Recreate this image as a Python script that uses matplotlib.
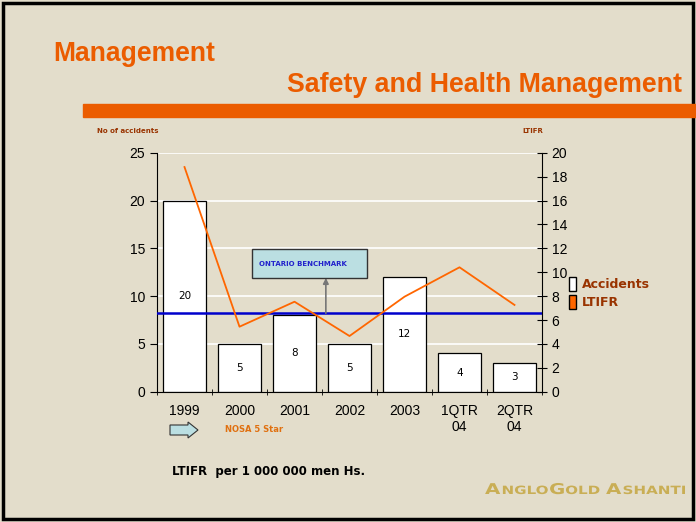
import matplotlib
matplotlib.use("Agg")
import matplotlib.pyplot as plt
from matplotlib.patches import Rectangle, Patch, FancyArrow, PathPatch
from matplotlib.textpath import TextPath
from matplotlib.font_manager import FontProperties
from matplotlib.transforms import Affine2D, IdentityTransform

# data
categories = ["1999", "2000", "2001", "2002", "2003", "1QTR\n04", "2QTR\n04"]
accidents = [20, 5, 8, 5, 12, 4, 3]
ltifr = [18.8, 5.44, 7.53, 4.66, 7.95, 10.41, 7.26]
benchmark = 8.2  # on accidents axis

BG = "#E3DDCB"
ORANGE = "#EB5C00"
BROWN = "#993300"

fig = plt.figure(figsize=(6.96, 5.22), dpi=100, facecolor=BG)

# border
fig.patches.append(Rectangle((0.005, 0.006), 0.99, 0.988, transform=fig.transFigure,
                             fill=False, edgecolor="black", linewidth=2.5))

# titles and banner
fig.text(53 / 696, 1 - 60.7 / 522, "Management", color=ORANGE, fontsize=19.1,
         fontweight="bold", va="baseline", ha="left", family="Liberation Sans")
fig.text(682 / 696, 1 - 92.5 / 522, "Safety and Health Management", color=ORANGE,
         fontsize=19.3, fontweight="bold", va="baseline", ha="right", family="Liberation Sans")
fig.patches.append(Rectangle((83 / 696, 1 - 117 / 522), 1, 13 / 522,
                             transform=fig.transFigure, color=ORANGE, zorder=1))

ax = fig.add_axes([157 / 696, 1 - 391.7 / 522, 385 / 696, 239 / 522])
ax.set_facecolor("none")
x = list(range(len(categories)))

# gridlines
for g in [5, 10, 15, 20, 25]:
    ax.axhline(g, color="white", linewidth=1.2, zorder=0)

bars = ax.bar(x, accidents, width=0.79, color="white", edgecolor="black", linewidth=0.9, zorder=2)
for xi, v in zip(x, accidents):
    ax.text(xi, v / 2, str(v), ha="center", va="center", fontsize=7.5, zorder=3)

ax.axhline(benchmark, color="#0000CC", linewidth=1.8, zorder=4)

ax.set_xlim(-0.5, len(categories) - 0.5)
ax.set_ylim(0, 25)
ax.set_yticks([0, 5, 10, 15, 20, 25])
ax.set_xticks(x)
ax.set_xticklabels(categories, fontsize=10, family="Liberation Sans")
ax.tick_params(axis="x", length=0, pad=9)
ax.set_xticks([i + 0.5 for i in range(-1, len(categories))], minor=True)
ax.tick_params(axis="x", which="minor", length=4, direction="inout")
ax.tick_params(axis="y", labelsize=10, length=5, direction="out")
for lab in ax.get_yticklabels():
    lab.set_family("Liberation Sans")
ax.spines["top"].set_visible(False)
ax.spines["right"].set_visible(False)

ax2 = ax.twinx()
ax2.plot(x, ltifr, color="#FF6600", linewidth=1.3, zorder=5)
ax2.set_ylim(0, 20)
ax2.set_yticks(range(0, 21, 2))
ax2.tick_params(axis="y", labelsize=10, length=7, direction="inout")
for lab in ax2.get_yticklabels():
    lab.set_family("Liberation Sans")
for s in ["top", "left", "bottom"]:
    ax2.spines[s].set_visible(False)

# axis captions
fig.text(97 / 696, 1 - 131 / 522, "No of accidents", fontsize=5, fontweight="bold",
         color=BROWN, va="center")
fig.text(522 / 696, 1 - 131 / 522, "LTIFR", fontsize=5, fontweight="bold",
         color=BROWN, va="center")

# Ontario benchmark callout
ax.annotate("", xy=(2.57, 11.9), xytext=(2.57, benchmark),
            arrowprops=dict(arrowstyle="-|>", color="#777777", lw=1.2,
                            mutation_scale=8, shrinkA=0, shrinkB=0), zorder=6)
ax.add_patch(Rectangle((1.227, 11.9), 2.09, 3.0, facecolor="#BBDFE2",
                       edgecolor="#333333", linewidth=1, zorder=6))
ax.text(1.35, 13.4, "ONTARIO BENCHMARK", color="#2222CC", fontsize=5,
        fontweight="bold", va="center", ha="left", zorder=7)

# legend
leg = fig.legend(handles=[Patch(facecolor="white", edgecolor="black", label="Accidents"),
                          Patch(facecolor="#FF6600", edgecolor="black", label="LTIFR")],
                 loc="center left", bbox_to_anchor=(558 / 696, 1 - 293 / 522),
                 frameon=False, handlelength=0.5, handleheight=1.3,
                 handletextpad=0.5, labelspacing=0.3,
                 prop={"size": 9, "weight": "bold"})
for t in leg.get_texts():
    t.set_color(BROWN)

# NOSA arrow and text
fig.patches.append(FancyArrow(170 / 696, 1 - 430 / 522, 18 / 696, 0, width=10 / 522,
                              head_width=16 / 522, head_length=10 / 696,
                              length_includes_head=False, transform=fig.transFigure,
                              facecolor="#BBDFE2", edgecolor="#333333", linewidth=0.8))
fig.text(225 / 696, 1 - 430 / 522, "NOSA 5 Star", fontsize=6, fontweight="bold",
         color="#E07010", va="center")

fig.text(172 / 696, 1 - 472 / 522, "LTIFR  per 1 000 000 men Hs.", fontsize=8.5,
         fontweight="bold", va="center")

# AngloGold Ashanti logo: stretched small caps drawn as text paths (pixel coords)
fp = FontProperties(family="DejaVu Sans", weight="bold")
pieces = [("A", 10.7), ("NGLO", 8.2), ("G", 10.7), ("OLD ", 8.2), ("A", 10.7), ("SHANTI", 8.2)]
px = 100 / 72
paths = []
for s, size in pieces:
    tp = TextPath((0, 0), s, size=size, prop=fp)
    adv = tp.get_extents().x1 if s.strip() == s else tp.get_extents().x1 + size * 0.35
    paths.append((tp, adv * px))
total = sum(a for _, a in paths) + 1.0 * (len(paths) - 1)
sx = 200 / total
xpos = 485
base_y = 522 - 494
for tp, adv in paths:
    tr = Affine2D().scale(px * sx, px).translate(xpos, base_y)
    fig.patches.append(PathPatch(tp, transform=tr, facecolor="#C9AE55",
                                 edgecolor="none", zorder=5))
    xpos += (adv + 1.0) * sx

fig.savefig("out.png", dpi=100, facecolor=BG)
